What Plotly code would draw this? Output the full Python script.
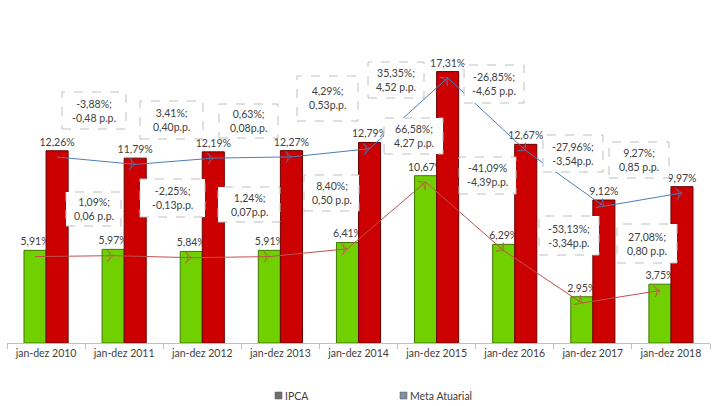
import plotly.graph_objects as go

categories = ["jan-dez 2010", "jan-dez 2011", "jan-dez 2012", "jan-dez 2013", "jan-dez 2014",
              "jan-dez 2015", "jan-dez 2016", "jan-dez 2017", "jan-dez 2018"]
ipca = [5.91, 5.97, 5.84, 5.91, 6.41, 10.67, 6.29, 2.95, 3.75]
meta = [12.26, 11.79, 12.19, 12.27, 12.79, 17.31, 12.67, 9.12, 9.97]

meta_var_labels = ["-3,88%;<br>-0,48 p.p.", "3,41%;<br>0,40p.p.", "0,63%;<br>0,08p.p.",
                   "4,29%;<br>0,53p.p.", "35,35%;<br>4,52 p.p.", "-26,85%;<br>-4,65 p.p.",
                   "-27,96%;<br>-3,54p.p.", "9,27%;<br>0,85 p.p."]
ipca_var_labels = ["1,09%;<br>0,06 p.p.", "-2,25%;<br>-0,13p.p.", "1,24%;<br>0,07p.p.",
                   "8,40%;<br>0,50 p.p.", "66,58%;<br>4,27 p.p.", "-41,09%<br>-4,39p.p.",
                   "-53,13%;<br>-3,34p.p.", "27,08%;<br>0,80 p.p."]

# label box placement in pixels (x0, y0, x1, y1)
meta_boxes = [(62, 92, 126, 129), (140, 101, 203, 139), (219, 104, 278, 138), (297, 76, 358, 121),
              (368, 62, 424, 98), (464, 65, 524, 103), (543, 135, 603, 172), (609, 142, 669, 178)]
ipca_boxes = [(66, 192, 121, 226), (140, 179, 205, 217), (218, 187, 280, 222), (304, 175, 359, 211),
              (384, 118, 443, 154), (459, 157, 516, 194), (539, 216, 599, 255), (617, 224, 677, 263)]

W, H = 713, 406
ML, MR, MT, MB = 7, 3, 10, 63
PW, PH = W - ML - MR, H - MT - MB
FONT = "Lato, 'Open Sans', sans-serif"
FS = 10.5
TXT = "#404040"
BARGAP = 0.435
OFF = (1 - BARGAP) / 4
LINE_DROP = 0.4


def px(x):
    return (x - ML) / PW


def py(y):
    return (H - MB - y) / PH


def fmt(v):
    return f"{v:.2f}".replace(".", ",") + "%"


fig = go.Figure()
fig.add_trace(go.Bar(x=categories, y=ipca, name="IPCA", text=[fmt(v) for v in ipca],
                     textposition="outside", constraintext="none",
                     textfont=dict(color=TXT, size=FS, family=FONT),
                     marker=dict(color="#70D000", line=dict(color="#3F7A00", width=1)),
                     cliponaxis=False, showlegend=False))
fig.add_trace(go.Bar(x=categories, y=meta, name="Meta Atuarial", text=[fmt(v) for v in meta],
                     textposition="outside", constraintext="none",
                     textfont=dict(color=TXT, size=FS, family=FONT),
                     marker=dict(color="#CC0000", line=dict(color="#6A0000", width=1)),
                     cliponaxis=False, showlegend=False))

idx = list(range(len(categories)))
sizes = [0] + [8] * (len(categories) - 1)
fig.add_trace(go.Scatter(x=[i - OFF for i in idx], y=[v - LINE_DROP for v in ipca], xaxis="x2",
                         mode="lines+markers", line=dict(color="#C0504D", width=1),
                         marker=dict(symbol="arrow-wide-open", angleref="previous", size=sizes,
                                     color="#C0504D", line=dict(color="#C0504D", width=1)),
                         showlegend=False, hoverinfo="skip"))
fig.add_trace(go.Scatter(x=[i + OFF for i in idx], y=[v - LINE_DROP for v in meta], xaxis="x2",
                         mode="lines+markers", line=dict(color="#4A7EBB", width=1),
                         marker=dict(symbol="arrow-wide-open", angleref="previous", size=sizes,
                                     color="#4A7EBB", line=dict(color="#4A7EBB", width=1)),
                         showlegend=False, hoverinfo="skip"))

shapes, annots = [], []
for labels, boxes in ((meta_var_labels, meta_boxes), (ipca_var_labels, ipca_boxes)):
    for t, (x0, y0, x1, y1) in zip(labels, boxes):
        shapes.append(dict(type="rect", xref="paper", yref="paper", x0=px(x0), x1=px(x1),
                           y0=py(y1), y1=py(y0), line=dict(color="#BFBFBF", width=1, dash="dash"),
                           fillcolor="white", layer="above"))
        annots.append(dict(xref="paper", yref="paper", x=px((x0 + x1) / 2), y=py((y0 + y1) / 2),
                           text=t, showarrow=False, xanchor="center", yanchor="middle",
                           font=dict(size=FS, color=TXT, family=FONT)))

# legend
for (x0, y0, x1, y1), name, col in (((275, 392, 282, 399), "IPCA", "#707070"),
                                     ((400, 392, 407, 399), "Meta Atuarial", "#8090A0")):
    shapes.append(dict(type="rect", xref="paper", yref="paper", x0=px(x0), x1=px(x1),
                       y0=py(y1), y1=py(y0), line=dict(color="#555555", width=0.5), fillcolor=col))
    annots.append(dict(xref="paper", yref="paper", x=px(x1 + 1), y=py((y0 + y1) / 2),
                       text=name, showarrow=False, xanchor="left", yanchor="middle",
                       font=dict(size=FS, color=TXT, family=FONT)))

fig.update_layout(
    width=W, height=H, margin=dict(l=ML, r=MR, t=MT, b=MB),
    paper_bgcolor="white", plot_bgcolor="white",
    barmode="group", bargap=BARGAP, bargroupgap=0,
    font=dict(family=FONT, size=FS, color=TXT),
    xaxis=dict(type="category", range=[-0.5, 8.5], showline=True, linecolor="#BFBFBF",
               ticks="outside", tickson="boundaries", ticklen=5, tickcolor="#BFBFBF",
               tickfont=dict(size=FS, color=TXT, family=FONT), showgrid=False, zeroline=False),
    xaxis2=dict(overlaying="x", range=[-0.5, 8.5], visible=False),
    yaxis=dict(range=[0, PH / 15.68], visible=False, showgrid=False, zeroline=False),
    shapes=shapes, annotations=annots,
)

fig.write_html("out.html", config={"displayModeBar": False},
               post_script="document.body.style.margin='0';")
